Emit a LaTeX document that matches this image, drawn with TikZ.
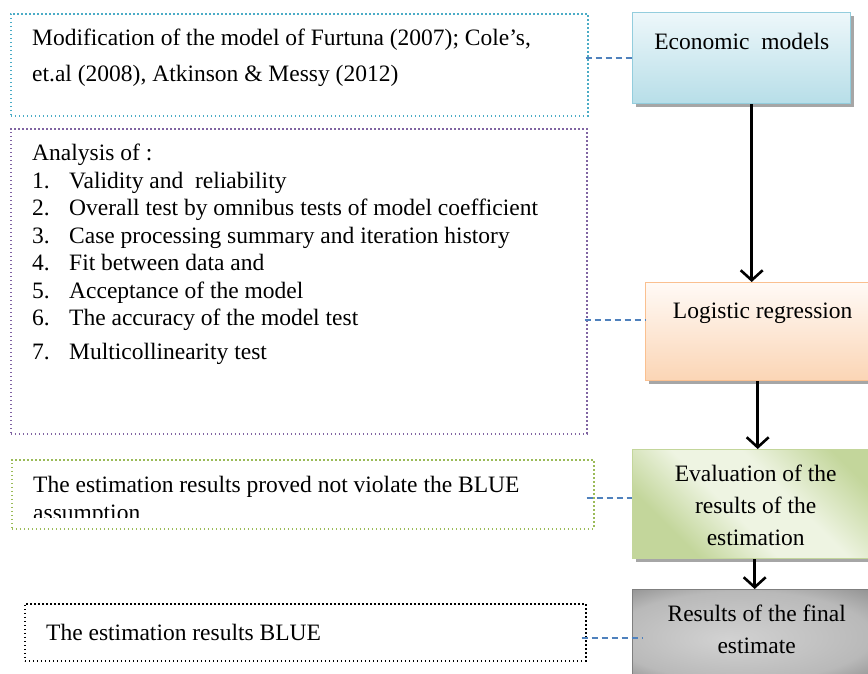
\documentclass[tikz,border=0pt]{standalone}
\usepackage{fontspec}
\setmainfont{Liberation Serif}
\usetikzlibrary{positioning,shadows,arrows.meta}
\definecolor{notecyan}{HTML}{4BACC6}
\definecolor{notepurple}{HTML}{8064A2}
\definecolor{notegreen}{HTML}{9BBB59}
\definecolor{linkblue}{HTML}{4F81BD}
\definecolor{econtop}{HTML}{EDF7FA}
\definecolor{econbot}{HTML}{B7DEE8}
\definecolor{econdraw}{HTML}{93CDDD}
\definecolor{logittop}{HTML}{FFFAF6}
\definecolor{logitbot}{HTML}{FBD5B5}
\definecolor{logitdraw}{HTML}{FAC090}
\definecolor{evalgreen}{HTML}{C3D69B}
\definecolor{evallight}{HTML}{EEF4E2}
\definecolor{resdraw}{HTML}{7F7F7F}
\definecolor{resin}{HTML}{D2D2D2}
\definecolor{resmid}{HTML}{B9B9B9}
\definecolor{resout}{HTML}{5E5E5E}
\pgfdeclareradialshading{resshade}{\pgfpoint{-6bp}{-4bp}}{color(0bp)=(resin); color(26bp)=(resmid); color(50bp)=(resout)}
\pgfdeclarehorizontalshading{evalshade}{100bp}{color(0bp)=(evalgreen); color(28bp)=(evalgreen); color(44bp)=(evallight); color(58bp)=(evallight); color(76bp)=(evalgreen); color(100bp)=(evalgreen)}
\newcommand{\numline}[2]{\makebox[37pt][l]{#1}#2}
\begin{document}
\begin{tikzpicture}[x=1pt, y=-1pt,
    every node/.append style={font=\fontsize{23.5}{27.5}\selectfont},
    notebox/.style={draw=#1, line width=1.6pt, dash pattern=on 1.6pt off 2.4pt,
        anchor=north west, inner sep=0pt},
    flowbox/.style={draw=#1, line width=1.4pt, anchor=north west, inner sep=0pt,
        drop shadow={shadow xshift=3.5pt, shadow yshift=-3.5pt, opacity=.35, fill=black}},
    flowtext/.style={align=center, inner sep=0pt},
    notetext/.style={align=left, anchor=north west, inner sep=0pt},
    link/.style={draw=linkblue, line width=2pt, dash pattern=on 6pt off 4pt},
    flow/.style={line width=2.6pt, -{Straight Barb[length=10pt,width=22pt]}}]
        \useasboundingbox (0,0) rectangle (868,673);
        \clip (0,0) rectangle (868,673);
        % dotted note boxes on the left
        \node[notebox=notecyan, minimum width=577pt, minimum height=102pt] (modbox) at (10,13) {};
        \node[notebox=notepurple, minimum width=576pt, minimum height=305pt] (anabox) at (10,128) {};
        \node[notebox=notegreen, minimum width=582pt, minimum height=69pt] (bluebox) at (11,459) {};
        \node[notebox=black, minimum width=561pt, minimum height=57pt] (finalbox) at (24,603) {};
        % texts of the note boxes
        \node[notetext, font=\fontsize{23.5}{36}\selectfont] (modtext) at (32,29)
            {Modification of the model of Furtuna (2007); Cole’s,\\et.al (2008), Atkinson \& Messy (2012)};
        \node[notetext] (anatext) at (32,144)
            {Analysis of :\\
             \numline{1.}{Validity and\ \ reliability}\\
             \numline{2.}{Overall test by omnibus tests of model coefficient}\\
             \numline{3.}{Case processing summary and iteration history}\\
             \numline{4.}{Fit between data and}\\
             \numline{5.}{Acceptance of the model}\\
             \numline{6.}{The accuracy of the model test}\\[6pt]
             \numline{7.}{Multicollinearity test}};
        \begin{scope}
            \clip (11,459) rectangle (593,517);
            \node[notetext] (bluetext) at (33,476)
                {The estimation results proved not violate the BLUE\\assumption};
        \end{scope}
        \node[notetext] (finaltext) at (46,624) {The estimation results BLUE};
        % flow boxes on the right
        \node[flowbox=econdraw, top color=econtop, bottom color=econbot,
            minimum width=218pt, minimum height=91pt] (econ) at (632,12) {};
        \node[flowbox=logitdraw, top color=logittop, bottom color=logitbot,
            minimum width=234pt, minimum height=98pt] (logit) at (645,282) {};
        \node[flowbox=evalgreen, shading=evalshade, shading angle=45,
            minimum width=246pt, minimum height=109pt] (eval) at (632,449) {};
        \node[flowbox=resdraw, shading=resshade,
            minimum width=248pt, minimum height=86pt] (results) at (632,589) {};
        % texts of the flow boxes
        \node[flowtext] (econtext) at ([yshift=-29pt]econ.north) {Economic\ \ models};
        \node[flowtext] (logittext) at ([yshift=-31pt]logit.north) {Logistic regression};
        \node[flowtext, font=\fontsize{23.5}{32}\selectfont] (evaltext) at ([yshift=-1pt]eval.center)
            {Evaluation of the\\results of the\\estimation};
        \node[flowtext, font=\fontsize{23.5}{32}\selectfont] (restext) at ([yshift=-40pt]results.north)
            {Results of the final\\estimate};
        % arrows between the flow boxes
        \draw[flow] ([xshift=10pt]econ.south) -- ([xshift=10pt]econ.south |- logit.north);
        \draw[flow] ([xshift=-5pt]logit.south) -- ([xshift=-5pt]logit.south |- eval.north);
        \draw[flow] ([xshift=-1pt]eval.south) -- ([xshift=-1pt]eval.south |- results.north);
        % dashed links from the notes
        \draw[link] ([xshift=-3pt]econ.west -| modbox.east) -- (econ.west);
        \draw[link] ([xshift=-3pt,yshift=12pt]logit.west -| anabox.east) -- ([yshift=12pt]logit.west);
        \draw[link] ([xshift=-8pt,yshift=6pt]eval.west -| bluebox.east) -- ([yshift=6pt]eval.west);
        \draw[link] ([xshift=-5pt,yshift=-5pt]results.west -| finalbox.east) -- ([xshift=11pt,yshift=-5pt]results.west);
\end{tikzpicture}
\end{document}
